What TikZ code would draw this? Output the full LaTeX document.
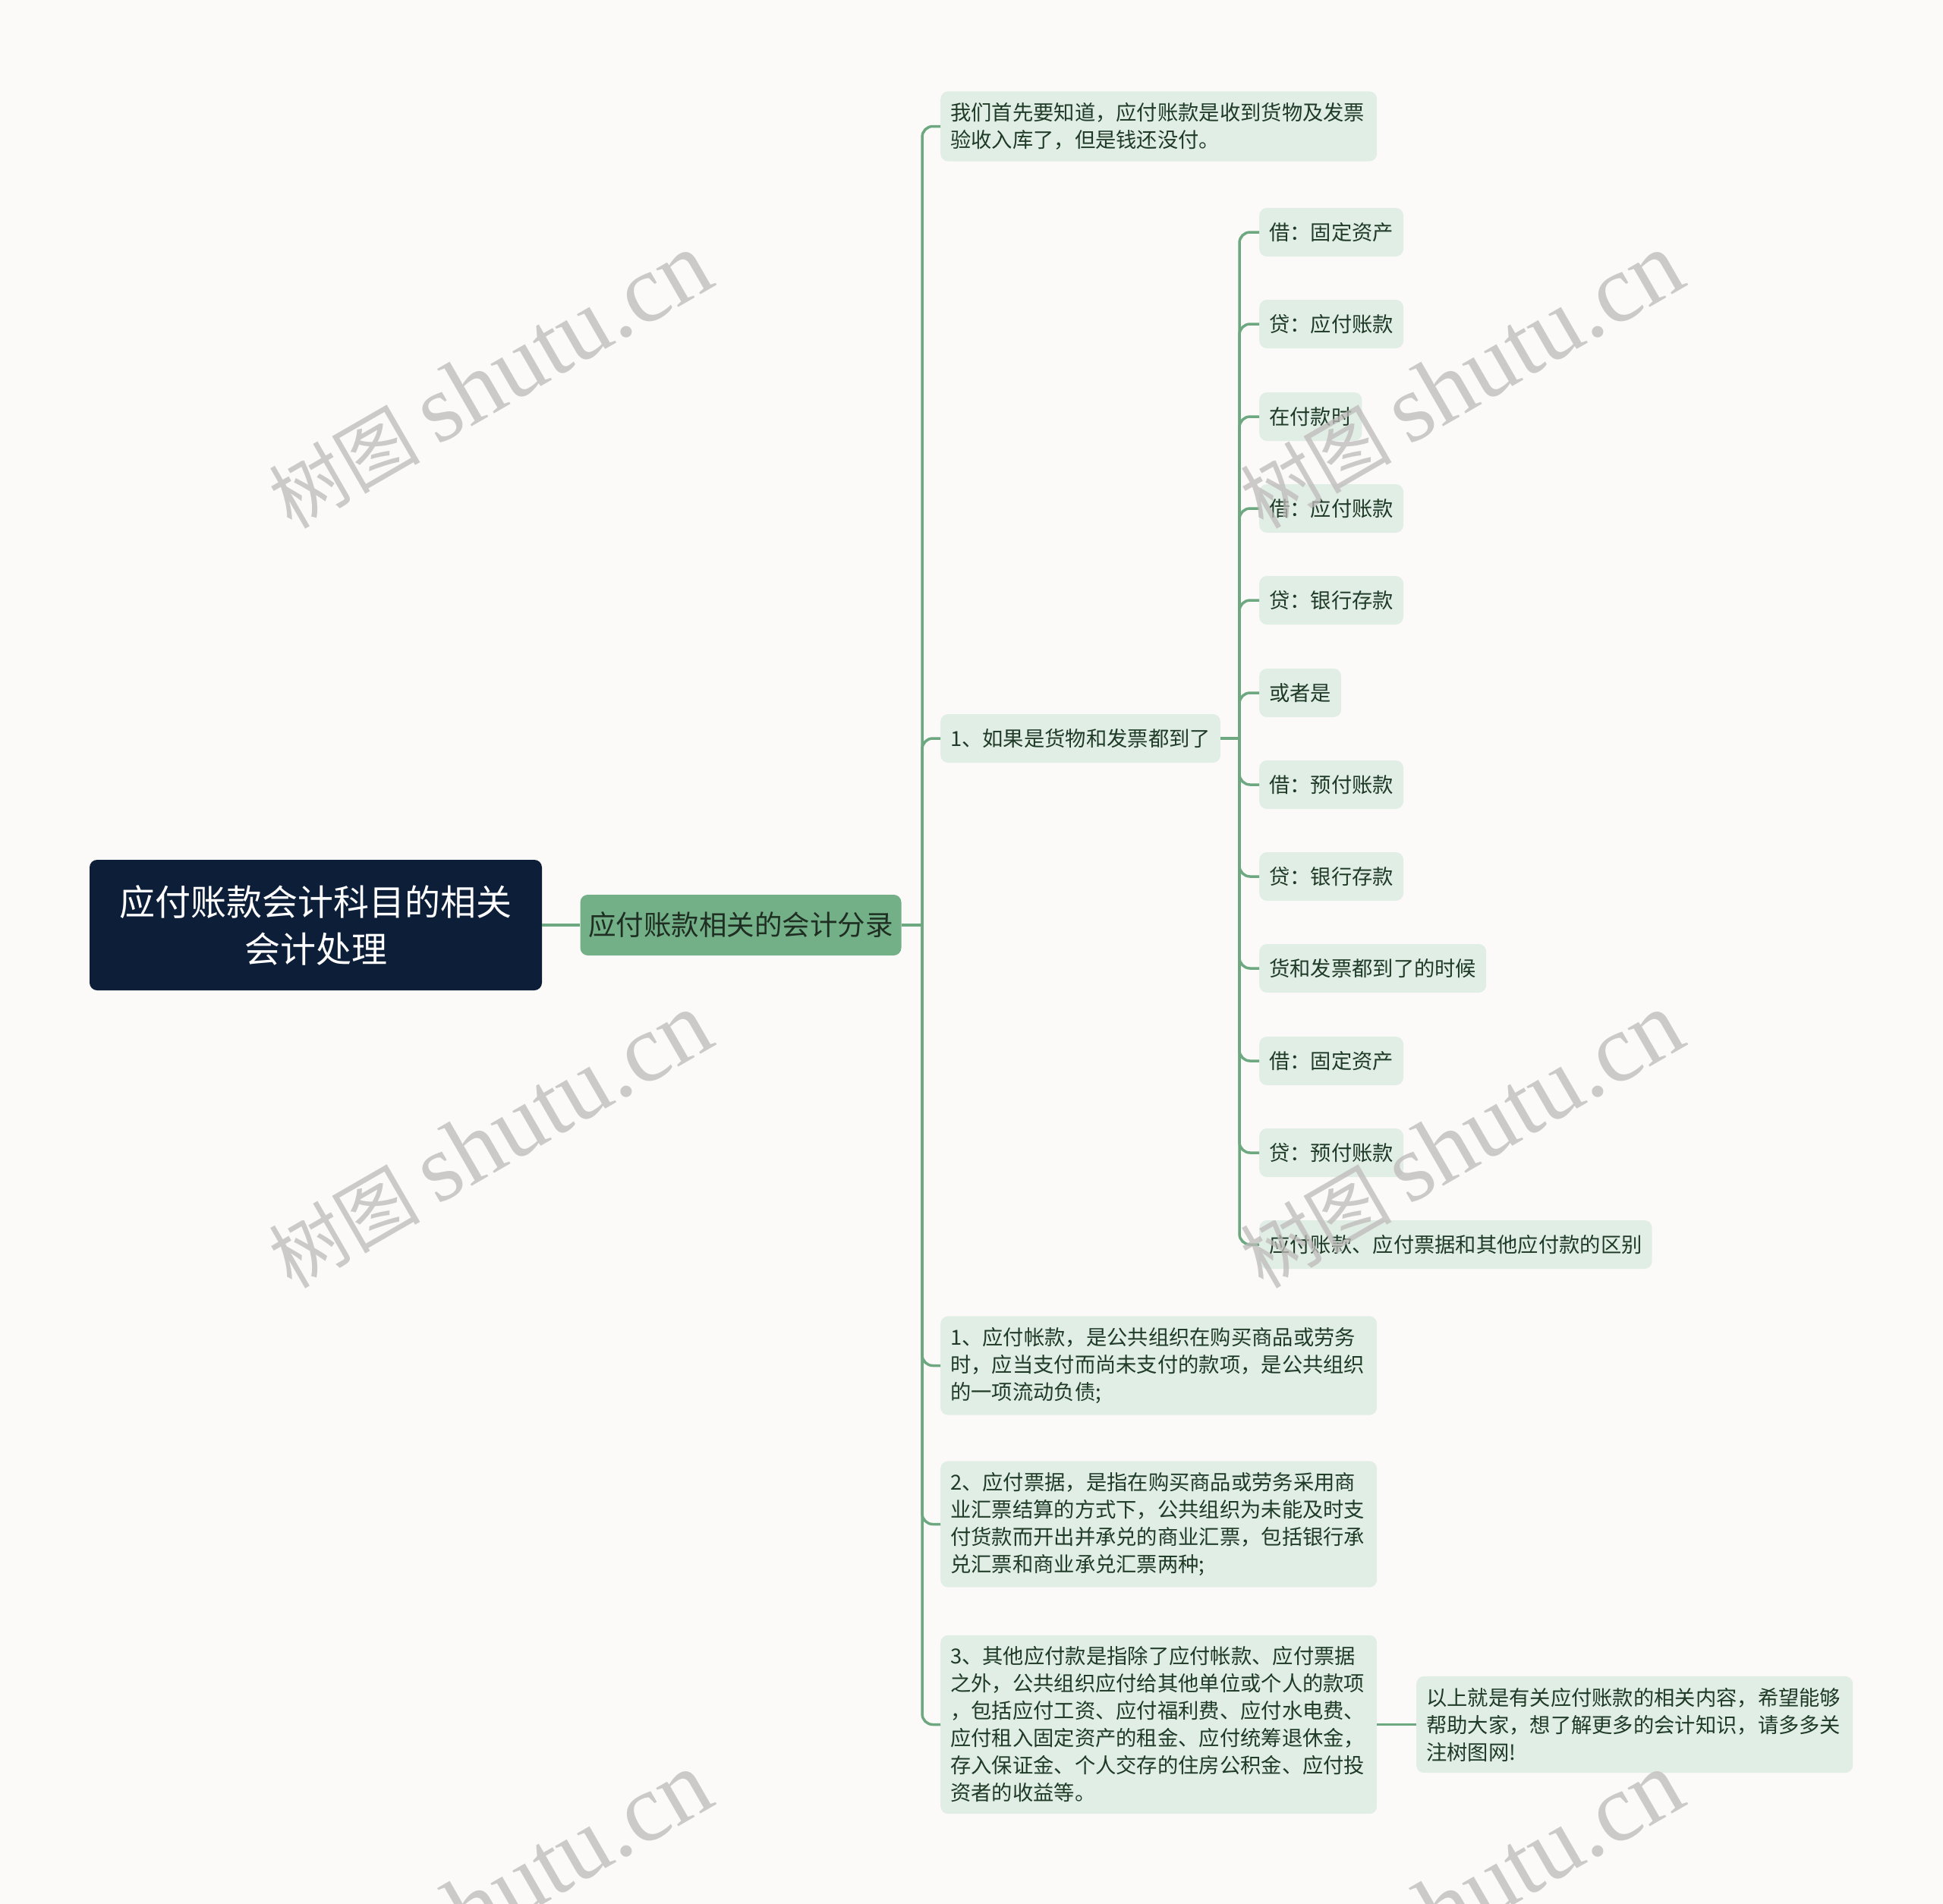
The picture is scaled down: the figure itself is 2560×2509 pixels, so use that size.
\documentclass[tikz,border=0pt]{standalone}
\usepackage{fontspec}
\setmainfont{Noto Sans CJK SC}
\newfontfamily\wmlatin{Liberation Serif}
\definecolor{bgc}{HTML}{FCFAF9}
\definecolor{rootc}{HTML}{0D1F38}
\definecolor{mainc}{HTML}{73AF87}
\definecolor{maint}{HTML}{1E2E22}
\definecolor{leafc}{HTML}{E1EEE5}
\definecolor{leaft}{HTML}{1F3A27}
\definecolor{edgec}{HTML}{6DA880}
\definecolor{wmc}{HTML}{BDBBBA}
\newcommand{\wmtext}{{\fontsize{100pt}{100pt}\selectfont 树图}\hspace{22pt}{\wmlatin\fontsize{127pt}{127pt}\selectfont shutu.cn}}
\begin{document}
\begin{tikzpicture}[x=1pt,y=-1pt,
  rootbox/.style={fill=rootc, rounded corners=10pt, text=white, align=center,
    minimum width=596pt, minimum height=172pt, inner sep=0pt,
    font=\fontsize{47pt}{62pt}\selectfont},
  mainbox/.style={fill=mainc, rounded corners=10pt, text=maint,
    minimum width=423pt, minimum height=80pt, inner sep=0pt,
    font=\fontsize{36.5pt}{46pt}\selectfont},
  leaf/.style={fill=leafc, rounded corners=10pt, text=leaft, anchor=west,
    inner xsep=13pt, inner ysep=15pt, align=left,
    font=\fontsize{27.3pt}{36pt}\selectfont},
  oneline/.style={leaf, minimum height=64pt},
  multi/.style={leaf, text width=549pt},
  edge/.style={draw=edgec, line width=3.5pt, rounded corners=14pt},
  wm/.style={rotate=30, text=wmc, text opacity=0.75, inner sep=0pt}
]
\useasboundingbox (0,0) rectangle (2560,2509);
\fill[bgc] (0,0) rectangle (2560,2509);

% root and main
\node[rootbox] (root) at (416,1219) {应付账款会计科目的相关\\会计处理};
\node[mainbox] (main) at (976,1219) {应付账款相关的会计分录};

% level 2
\node[multi] (a) at (1239,166.5) {我们首先要知道，应付账款是收到货物及发票\\验收入库了，但是钱还没付。};
\node[oneline] (b) at (1239,973) {1、如果是货物和发票都到了};
\node[multi] (c) at (1239,1799.5) {1、应付帐款，是公共组织在购买商品或劳务\\时，应当支付而尚未支付的款项，是公共组织\\的一项流动负债;};
\node[multi] (d) at (1239,2008.5) {2、应付票据，是指在购买商品或劳务采用商\\业汇票结算的方式下，公共组织为未能及时支\\付货款而开出并承兑的商业汇票，包括银行承\\兑汇票和商业承兑汇票两种;};
\node[multi] (e) at (1239,2272.5) {3、其他应付款是指除了应付帐款、应付票据\\之外，公共组织应付给其他单位或个人的款项\\，包括应付工资、应付福利费、应付水电费、\\应付租入固定资产的租金、应付统筹退休金，\\存入保证金、个人交存的住房公积金、应付投\\资者的收益等。};
\node[multi] (f) at (1866,2272.5) {以上就是有关应付账款的相关内容，希望能够\\帮助大家，想了解更多的会计知识，请多多关\\注树图网!};

% level 3
\node[oneline] (b1) at (1659,306) {借：固定资产};
\node[oneline] (b2) at (1659,427) {贷：应付账款};
\node[oneline] (b3) at (1659,549) {在付款时};
\node[oneline] (b4) at (1659,670) {借：应付账款};
\node[oneline] (b5) at (1659,791) {贷：银行存款};
\node[oneline] (b6) at (1659,913) {或者是};
\node[oneline] (b7) at (1659,1034) {借：预付账款};
\node[oneline] (b8) at (1659,1155) {贷：银行存款};
\node[oneline] (b9) at (1659,1276) {货和发票都到了的时候};
\node[oneline] (b10) at (1659,1398) {借：固定资产};
\node[oneline] (b11) at (1659,1519) {贷：预付账款};
\node[oneline] (b12) at (1659,1640) {应付账款、应付票据和其他应付款的区别};

% connectors
\draw[edge] (root.east) -- (main.west);
\coordinate (t1) at (1215,1219);
\draw[edge] (main.east) -- (t1);
\foreach \n in {a,b,c,d,e} \draw[edge] (t1) |- (\n.west);
\coordinate (t2) at (1633,973);
\draw[edge] (b.east) -- (t2);
\foreach \n in {b1,b2,b3,b4,b5,b6,b7,b8,b9,b10,b11,b12} \draw[edge] (t2) |- (\n.west);
\draw[edge] (e.east) -- (f.west);

% watermarks
\foreach \wx/\wy [count=\i] in {645/502, 1925/502, 645/1503, 1925/1503, 645/2504, 1925/2504}
  \node[wm] (wm\i) at (\wx,\wy) {\wmtext};
\end{tikzpicture}
\end{document}
